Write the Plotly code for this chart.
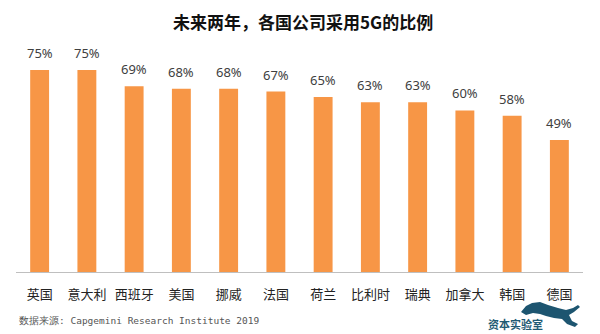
import plotly.graph_objects as go

categories = ["英国", "意大利", "西班牙", "美国", "挪威", "法国", "荷兰", "比利时", "瑞典", "加拿大", "韩国", "德国"]
values = [75, 75, 69, 68, 68, 67, 65, 63, 63, 60, 58, 49]
value_labels = [f"{v}%" for v in values]

title_text = "未来两年，各国公司采用5G的比例"
source_text = "数据来源: Capgemini Research Institute 2019"
logo_text = "资本实验室"

fig = go.Figure()
fig.add_trace(go.Bar(
    x=categories, y=values,
    marker=dict(color="#F79646", line=dict(width=0)),
    hoverinfo="skip",
))

for c, v, lab in zip(categories, values, value_labels):
    fig.add_annotation(x=c, y=v, text=lab, showarrow=False,
                       yanchor="bottom", yshift=6,
                       font=dict(family="Noto Sans", size=13, color="#404040"))

fig.add_annotation(xref="paper", yref="paper", x=0.5, xshift=3, y=1, yshift=20,
                   text="<b>" + title_text + "</b>", showarrow=False,
                   font=dict(family="Noto Sans CJK SC", size=17, color="#111111"),
                   xanchor="center", yanchor="bottom")

L, R, T, B = 16, 17, 56, 62
W, H = 600, 334
pw, ph = W - L - R, H - T - B

def px(x, y):
    return (x - L) / pw, (H - B - y) / ph

# decorative leaping-cat silhouette of the logo
cat_pts = [(521, 312), (526, 306), (532, 303), (540, 302), (548, 305), (558, 308), (566, 310),
           (573, 308), (578, 305), (580, 307), (574, 312), (569, 315), (572, 321), (578, 324),
           (575, 327), (567, 324), (562, 319), (554, 318), (546, 316), (540, 314), (533, 313),
           (526, 315)]
path = ""
for i, (a, b) in enumerate(cat_pts):
    u, v = px(a, b)
    path += ("M" if i == 0 else "L") + f"{u:.4f},{v:.4f} "
path += "Z"

fig.update_layout(
    width=W, height=H,
    margin=dict(l=L, r=R, t=T, b=B),
    paper_bgcolor="white", plot_bgcolor="white",
    bargap=0.6,
    showlegend=False,
    xaxis=dict(showline=True, linecolor="#BFBFBF", linewidth=1,
               ticks="", ticklabelstandoff=10,
               tickfont=dict(family="Noto Sans CJK SC", size=13, color="#222222"),
               fixedrange=True),
    yaxis=dict(range=[0, 80.2], visible=False, showgrid=False, zeroline=False),
    shapes=[dict(type="path", xref="paper", yref="paper", path=path,
                 fillcolor="#1D5570", line=dict(width=0))],
)

fig.add_annotation(xref="paper", yref="paper", x=0, xshift=1, y=0, yshift=-48,
                   text=source_text, showarrow=False, xanchor="left", yanchor="middle",
                   font=dict(family="DejaVu Sans Mono", size=9.5, color="#555555"))
fig.add_annotation(xref="paper", yref="paper", x=1, xshift=-38, y=0, yshift=-52,
                   text="<b>" + logo_text + "</b>", showarrow=False, xanchor="right", yanchor="middle",
                   font=dict(family="Noto Sans CJK SC", size=11, color="#1F5A73"))

fig.write_html("out.html")
